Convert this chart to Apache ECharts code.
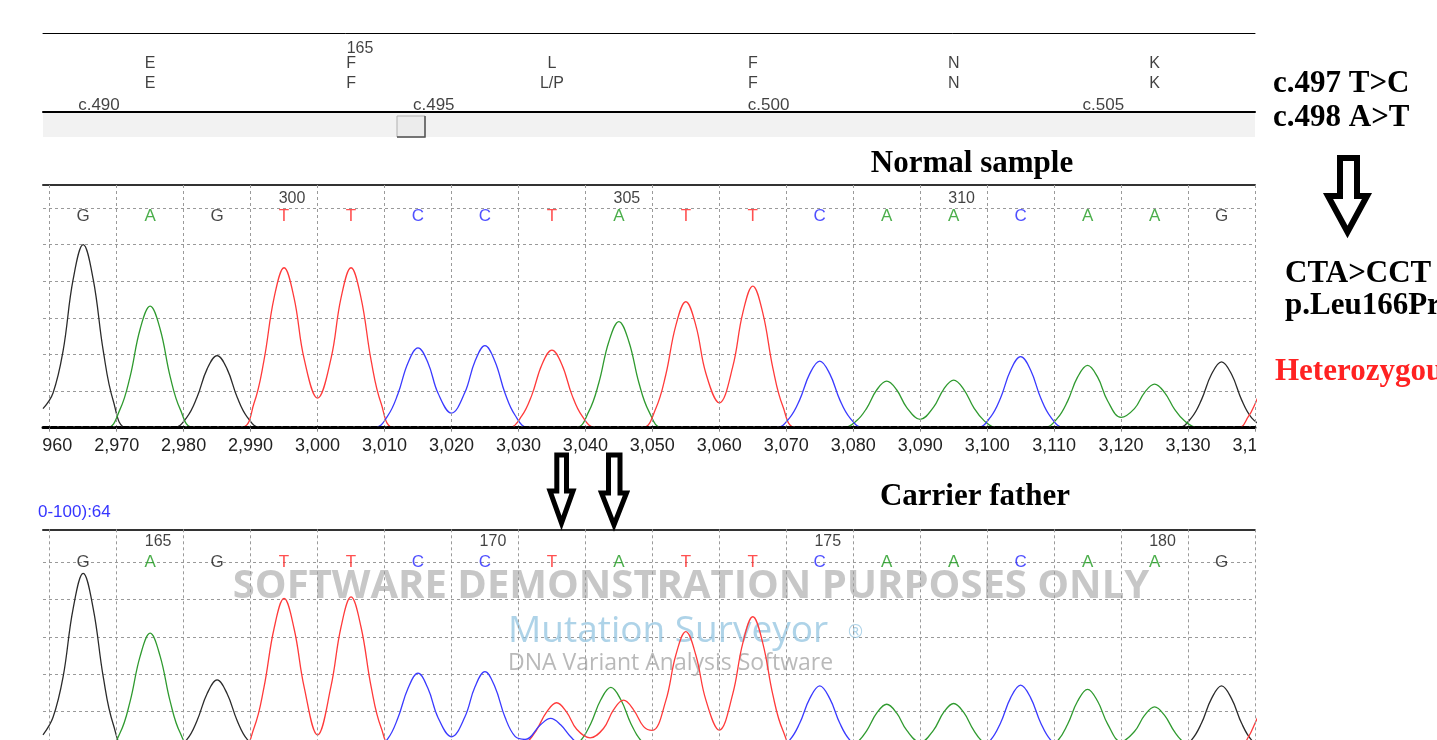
<!DOCTYPE html>
<html><head><meta charset="utf-8">
<script src="https://cdn.jsdelivr.net/npm/echarts@6/dist/echarts.min.js"></script>
<style>html,body{margin:0;padding:0;background:#fff}#c{width:1437px;height:740px}</style>
</head><body><div id="c"></div>
<script>
// ---- data ----
const xTicks = [2960,2970,2980,2990,3000,3010,3020,3030,3040,3050,3060,3070,3080,3090,3100,3110,3120,3130,3140];
const bases = ['G','A','G','T','T','C','C','T','A','T','T','C','A','A','C','A','A','G'];
const basePos = [2965,2975,2985,2995,3005,3015,3025,3035,3045,3055,3065,3075,3085,3095,3105,3115,3125,3135];
const normalNumbers = ['300','305','310'];
const normalNumberPos = [2995,3045,3095];
const carrierNumbers = ['165','170','175','180'];
const carrierNumberPos = [2975,3025,3075,3125];
const aaRef = ['E','F','L','F','N','K'];
const aaSample = ['E','F','L/P','F','N','K'];
const aaPos = [2975,3005,3035,3065,3095,3125];
const codonNumbers = ['165'];
const codonNumberPos = [3005];
const cdnaLabels = ['c.490','c.495','c.500','c.505'];
const cdnaPos = [2965,3015,3065,3115];

const normalG = [[2959,0.52],[2960.5,0.95],[2962,2.1],[2963.5,4.05],[2965,5.0],[2966.5,4.05],[2968,2.1],[2969.5,0.73],[2971.5,0],[2978.5,0],[2980.5,0.29],[2982,0.83],[2983.5,1.6],[2985,1.97],[2986.5,1.6],[2988,0.83],[2989.5,0.29],[2991.5,0],[3128.5,0],[3130.5,0.27],[3132,0.76],[3133.5,1.46],[3135,1.8],[3136.5,1.46],[3138,0.76],[3139.5,0.27],[3141.5,0]];
const normalA = [[2959,0],[2968.5,0],[2970.5,0.5],[2972,1.39],[2973.5,2.69],[2975,3.32],[2976.5,2.69],[2978,1.39],[2979.5,0.5],[2981.5,0],[3038.5,0],[3040.5,0.44],[3042,1.22],[3043.5,2.35],[3045,2.9],[3046.5,2.35],[3048,1.22],[3049.5,0.44],[3051.5,0],[3078.5,0],[3080.5,0.19],[3082,0.53],[3083.5,1.03],[3085,1.27],[3086.5,1.03],[3088,0.55],[3090,0.23],[3092,0.56],[3093.5,1.05],[3095,1.3],[3096.5,1.05],[3098,0.55],[3099.5,0.2],[3101.5,0],[3108.5,0],[3110.5,0.26],[3112,0.72],[3113.5,1.38],[3115,1.7],[3116.5,1.38],[3118,0.73],[3120,0.28],[3122,0.52],[3123.5,0.96],[3125,1.19],[3126.5,0.96],[3128,0.5],[3129.5,0.18],[3131.5,0],[3140,0]];
const normalT = [[2959,0],[2988.5,0],[2990.5,0.66],[2992,1.84],[2993.5,3.54],[2995,4.37],[2996.5,3.54],[2998,1.88],[3000,0.81],[3002,1.88],[3003.5,3.54],[3005,4.37],[3006.5,3.54],[3008,1.84],[3009.5,0.66],[3011.5,0],[3028.5,0],[3030.5,0.32],[3032,0.89],[3033.5,1.72],[3035,2.12],[3036.5,1.72],[3038,0.89],[3039.5,0.32],[3041.5,0],[3048.5,0],[3050.5,0.52],[3052,1.44],[3053.5,2.79],[3055,3.44],[3056.5,2.79],[3058,1.48],[3060,0.68],[3062,1.66],[3063.5,3.13],[3065,3.87],[3066.5,3.13],[3068,1.63],[3069.5,0.58],[3071.5,0],[3137.5,0],[3139,0.3],[3140,0.65],[3141,1.1]];
const normalC = [[2959,0],[3008.5,0],[3010.5,0.33],[3012,0.92],[3013.5,1.77],[3015,2.18],[3016.5,1.77],[3018,0.94],[3020,0.4],[3022,0.96],[3023.5,1.81],[3025,2.24],[3026.5,1.81],[3028,0.94],[3029.5,0.34],[3031.5,0],[3068.5,0],[3070.5,0.27],[3072,0.76],[3073.5,1.47],[3075,1.82],[3076.5,1.47],[3078,0.76],[3079.5,0.27],[3081.5,0],[3098.5,0],[3100.5,0.29],[3102,0.81],[3103.5,1.57],[3105,1.94],[3106.5,1.57],[3108,0.81],[3109.5,0.29],[3111.5,0],[3140,0]];

const carrierG = [[2959,0.38],[2960.5,0.85],[2962,1.93],[2963.5,3.76],[2965,4.7],[2966.5,3.76],[2968,1.93],[2969.5,0.66],[2971.5,0],[2978.5,0],[2980.5,0.26],[2982,0.76],[2983.5,1.48],[2985,1.85],[2986.5,1.48],[2988,0.76],[2989.5,0.26],[2991.5,0],[3128.5,0],[3130.5,0.24],[3132,0.69],[3133.5,1.35],[3135,1.69],[3136.5,1.35],[3138,0.69],[3139.5,0.24],[3141.5,0]];
const carrierA = [[2959,0],[2968.5,0],[2970.5,0.43],[2972,1.27],[2973.5,2.48],[2975,3.1],[2976.5,2.48],[2978,1.27],[2979.5,0.43],[2981.5,0],[3037.3,0],[3039.3,0.23],[3040.8,0.68],[3042.3,1.32],[3043.8,1.65],[3045.3,1.32],[3046.8,0.68],[3048.3,0.23],[3050.3,0],[3078.5,0],[3080.5,0.17],[3082,0.49],[3083.5,0.96],[3085,1.2],[3086.5,0.96],[3088,0.5],[3090,0.18],[3092,0.51],[3093.5,0.98],[3095,1.22],[3096.5,0.98],[3098,0.5],[3099.5,0.17],[3101.5,0],[3108.5,0],[3110.5,0.22],[3112,0.66],[3113.5,1.28],[3115,1.6],[3116.5,1.28],[3118,0.67],[3120,0.2],[3122,0.47],[3123.5,0.9],[3125,1.13],[3126.5,0.9],[3128,0.46],[3129.5,0.16],[3131.5,0],[3140,0]];
const carrierT = [[2959,0],[2988.5,0],[2990.5,0.56],[2992,1.65],[2993.5,3.22],[2995,4.03],[2996.5,3.22],[2998,1.66],[3000,0.38],[3002,1.67],[3003.5,3.26],[3005,4.07],[3006.5,3.26],[3008,1.67],[3009.5,0.57],[3011.5,0],[3029.2,0],[3031.2,0.17],[3032.7,0.51],[3034.2,0.99],[3035.7,1.24],[3037.2,0.99],[3038.7,0.53],[3040.7,0.3],[3042.7,0.55],[3044.2,1.05],[3045.7,1.31],[3047.2,1.05],[3048.7,0.6],[3050,0.5],[3052,1.29],[3053.5,2.51],[3055,3.14],[3056.5,2.51],[3058,1.31],[3060,0.51],[3062,1.47],[3063.5,2.83],[3065,3.54],[3066.5,2.83],[3068,1.45],[3069.5,0.5],[3071.5,0],[3137.5,0],[3139,0.32],[3140,0.69],[3141,1.1]];
const carrierC = [[2959,0],[3008.5,0],[3010.5,0.28],[3012,0.83],[3013.5,1.62],[3015,2.03],[3016.5,1.62],[3018,0.84],[3020,0.33],[3022,0.86],[3023.5,1.66],[3025,2.07],[3026.5,1.66],[3028,0.85],[3029.5,0.34],[3031,0.26],[3033.3,0.65],[3034.8,0.82],[3036.3,0.65],[3037.8,0.33],[3039.3,0.1],[3041.3,0],[3068.5,0],[3070.5,0.24],[3072,0.69],[3073.5,1.35],[3075,1.69],[3076.5,1.35],[3078,0.69],[3079.5,0.24],[3081.5,0],[3098.5,0],[3100.5,0.24],[3102,0.7],[3103.5,1.37],[3105,1.71],[3106.5,1.37],[3108,0.7],[3109.5,0.24],[3111.5,0],[3140,0]];

// ---- styling ----
const traceColor = {G:'#2b2b2b', A:'#2f9a2f', T:'#ff3a3a', C:'#3a3aff'};
const letterColor = {G:'#1a1a1a', A:'#1e9a1e', T:'#ff2424', C:'#2424ff'};
const SANS = '"Liberation Sans", Arial, sans-serif';
const SERIF = '"Liberation Serif", "Times New Roman", serif';
const X0 = 2959, X1 = 3140;
const fmt = v => String(v).replace(/\B(?=(\d{3})+(?!\d))/g, ',');

const chart = echarts.init(document.getElementById('c'), null, {renderer:'canvas'});

function traceSeries(data, ch, gi) {
  return {type:'line', xAxisIndex: gi*2, yAxisIndex: gi, data, showSymbol:false, symbol:'none',
    smooth:0.4, lineStyle:{color:traceColor[ch], width:1.3}, silent:true, z:2, clip:true};
}
function labelSeries(gi, names, pos, yVal, opts) {
  return {type:'scatter', xAxisIndex: gi*2, yAxisIndex: gi, symbolSize:0, silent:true, z:5,
    data: names.map((n,i)=>({name:n, value:[pos[i], yVal], label: opts.colorMap ? {color: opts.colorMap[n]} : undefined})),
    label:{show:true, position:'inside', formatter:'{b}', fontFamily:SANS, fontSize:opts.size, color:opts.color||'#111',
      align: opts.align||'center', verticalAlign:'middle', offset: opts.offset||[0,0]}};
}

function chromXAxes(gi, showLabels) {
  return [
    {gridIndex:gi, type:'value', min:X0, max:X1, position:'bottom', z:3,
      axisLine:{show:true, onZero:false, lineStyle:{color:'#000', width:3, type:[6,2]}},
      axisTick:{show:true, length:4, customValues:xTicks, lineStyle:{color:'#888'}},
      axisLabel:{show:showLabels, customValues:xTicks, formatter:fmt, fontSize:18, fontFamily:SANS, color:'#222', margin:9},
      splitLine:{show:true, lineStyle:{color:'#9a9a9a', width:1, type:[3,3]}}},
    {gridIndex:gi, type:'value', min:X0, max:X1, position:'top',
      axisLine:{show:true, onZero:false, lineStyle:{color:'#333', width:2}},
      axisTick:{show:false}, axisLabel:{show:false}, splitLine:{show:false}}
  ];
}
function chromYAxis(gi, max) {
  return {gridIndex:gi, type:'value', min:0, max:max, interval:1,
    axisLine:{show:false}, axisTick:{show:false}, axisLabel:{show:false},
    splitLine:{show:true, lineStyle:{color:'#9a9a9a', width:1, type:[3,3]}}};
}

const option = {
  animation:false,
  backgroundColor:'#fff',
  grid:[
    {left:43, top:33, width:1212, height:79, containLabel:false, outerBoundsMode:'none'},
    {left:43, top:185, width:1212, height:242.7, containLabel:false, outerBoundsMode:'none'},
    {left:43, top:529.3, width:1212, height:219.8, containLabel:false, outerBoundsMode:'none'}
  ],
  xAxis:[
    {gridIndex:0, type:'value', min:X0, max:X1, position:'bottom',
      axisLine:{show:true, onZero:false, lineStyle:{color:'#000', width:2}}, axisTick:{show:false}, axisLabel:{show:false}, splitLine:{show:false}},
    {gridIndex:0, type:'value', min:X0, max:X1, position:'top',
      axisLine:{show:true, onZero:false, lineStyle:{color:'#000', width:1}}, axisTick:{show:false}, axisLabel:{show:false}, splitLine:{show:false}},
    ...chromXAxes(1, true),
    ...chromXAxes(2, false)
  ],
  yAxis:[
    {gridIndex:0, type:'value', min:0, max:79, show:false},
    chromYAxis(1, 6.63),
    chromYAxis(2, 5.88)
  ],
  series:[
    // top annotation panel
    labelSeries(0, codonNumbers, codonNumberPos, 63.5, {size:16, offset:[9,0]}),
    labelSeries(0, aaRef, aaPos, 48.5, {size:16}),
    labelSeries(0, aaSample, aaPos, 28.5, {size:16}),
    labelSeries(0, cdnaLabels, cdnaPos, 7, {size:17, align:'left', offset:[-5,0]}),
    // normal sample
    traceSeries(normalG,'G',1), traceSeries(normalA,'A',1), traceSeries(normalT,'T',1), traceSeries(normalC,'C',1),
    labelSeries(1, bases, basePos, 5.77, {size:17, colorMap:letterColor}),
    labelSeries(1, normalNumbers, normalNumberPos, 6.27, {size:16, offset:[8,0]}),
    // carrier father
    traceSeries(carrierG,'G',2), traceSeries(carrierA,'A',2), traceSeries(carrierT,'T',2), traceSeries(carrierC,'C',2),
    labelSeries(2, bases, basePos, 5.01, {size:17, colorMap:letterColor}),
    labelSeries(2, carrierNumbers, carrierNumberPos, 5.55, {size:16, offset:[8,0]})
  ],
  graphic:{elements:[
    // scrollbar band
    {type:'rect', shape:{x:43, y:113, width:1212, height:24}, style:{fill:'#f2f2f2'}, z:1},
    {type:'rect', shape:{x:397, y:116, width:28, height:21}, style:{fill:'#ececec', stroke:'#b0b0b0', lineWidth:1}, z:2},
    {type:'polyline', shape:{points:[[397,137],[425,137],[425,116]]}, style:{stroke:'#555', lineWidth:1.5, fill:null}, z:3},
    // clip edge labels
    {type:'rect', shape:{x:0, y:436, width:42.5, height:24}, style:{fill:'#fff'}, z:100},
    {type:'rect', shape:{x:1256, y:436, width:60, height:24}, style:{fill:'#fff'}, z:100},
    // watermark
    {type:'text', x:691, y:587, z:1, style:{text:'SOFTWARE DEMONSTRATION PURPOSES ONLY', font:'bold 40px "Open Sans", sans-serif', fill:'rgba(175,175,175,0.7)', textAlign:'center', textVerticalAlign:'middle'}},
    {type:'text', x:508, y:631, z:1, style:{text:'Mutation Surveyor', font:'37px "Open Sans", sans-serif', fill:'rgba(140,192,222,0.7)', textAlign:'left', textVerticalAlign:'middle'}},
    {type:'text', x:848, y:633, z:1, style:{text:'®', font:'18px "Open Sans", sans-serif', fill:'rgba(140,192,222,0.7)', textAlign:'left', textVerticalAlign:'middle'}},
    {type:'text', x:508, y:663, z:1, style:{text:'DNA Variant Analysis Software', font:'23px "Open Sans", sans-serif', fill:'rgba(155,155,155,0.7)', textAlign:'left', textVerticalAlign:'middle'}},
    // titles
    {type:'text', x:972, y:164, z:10, style:{text:'Normal sample', font:'bold 31px ' + SERIF, fill:'#000', textAlign:'center', textVerticalAlign:'middle'}},
    {type:'text', x:975, y:497, z:10, style:{text:'Carrier father', font:'bold 31px ' + SERIF, fill:'#000', textAlign:'center', textVerticalAlign:'middle'}},
    // blue score text
    {type:'text', x:38, y:512, z:10, style:{text:'0-100):64', font:'17px ' + SANS, fill:'#3535ff', textAlign:'left', textVerticalAlign:'middle'}},
    // right annotations
    {type:'text', x:1273, y:84, z:10, style:{text:'c.497 T>C', font:'bold 31px ' + SERIF, fill:'#000', textVerticalAlign:'middle'}},
    {type:'text', x:1273, y:118, z:10, style:{text:'c.498 A>T', font:'bold 31px ' + SERIF, fill:'#000', textVerticalAlign:'middle'}},
    {type:'text', x:1285, y:274, z:10, style:{text:'CTA>CCT', font:'bold 31px ' + SERIF, fill:'#000', textVerticalAlign:'middle'}},
    {type:'text', x:1285, y:306, z:10, style:{text:'p.Leu166Pro', font:'bold 31px ' + SERIF, fill:'#000', textVerticalAlign:'middle'}},
    {type:'text', x:1275, y:372, z:10, style:{text:'Heterozygous', font:'bold 31px ' + SERIF, fill:'#ff2222', textVerticalAlign:'middle'}},
    // hollow arrows
    {type:'polygon', z:10, shape:{points:[[1340,158],[1357,158],[1357,196],[1367,196],[1347.5,232],[1328,196],[1340,196]]}, style:{fill:'#fff', stroke:'#000', lineWidth:6, lineJoin:'miter', miterLimit:10}},
    {type:'polygon', z:10, shape:{points:[[556.8,455],[566.5,455],[566.5,491],[573,491],[561.5,523],[550,491],[556.8,491]]}, style:{fill:'#fff', stroke:'#000', lineWidth:5, lineJoin:'miter', miterLimit:10}},
    {type:'polygon', z:10, shape:{points:[[608.5,455],[620,455],[620,493],[626.5,493],[614,525],[601.5,493],[608.5,493]]}, style:{fill:'#fff', stroke:'#000', lineWidth:5, lineJoin:'miter', miterLimit:10}}
  ]}
};
chart.setOption(option);
</script>
</body></html>
